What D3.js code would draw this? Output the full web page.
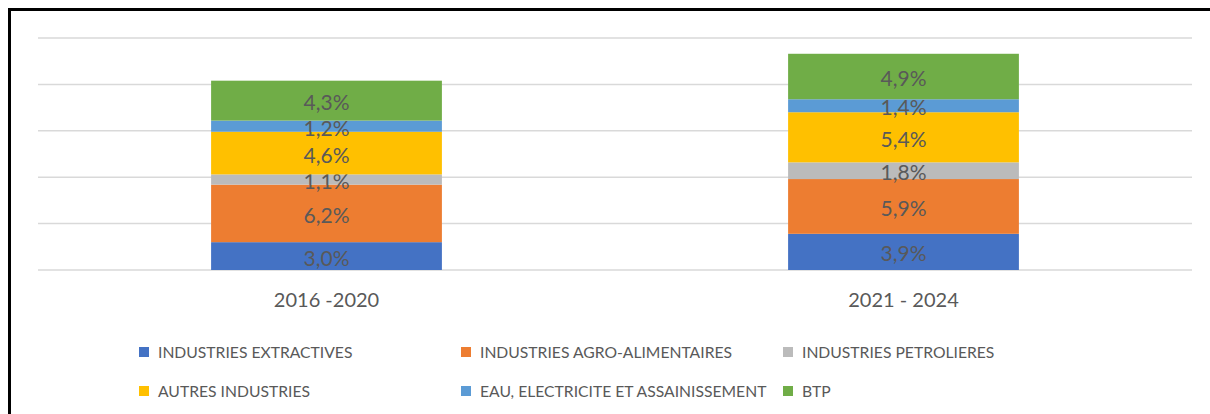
<!DOCTYPE html>
<html>
<head>
<meta charset="utf-8">
<script src="https://cdn.jsdelivr.net/npm/d3@7"></script>
<style>
  body { margin: 0; background: #fff; }
  svg { display: block; font-family: Lato, "Open Sans", sans-serif; }
</style>
</head>
<body>
<div id="chart"></div>
<script>
// data
const periods = ["2016 -2020", "2021 - 2024"];
const sectors = [
  "INDUSTRIES EXTRACTIVES",
  "INDUSTRIES AGRO-ALIMENTAIRES",
  "INDUSTRIES PETROLIERES",
  "AUTRES INDUSTRIES",
  "EAU, ELECTRICITE ET ASSAINISSEMENT",
  "BTP"
];
const extractives = [3.0, 3.9];
const agro = [6.2, 5.9];
const petrolieres = [1.1, 1.8];
const autres = [4.6, 5.4];
const eau = [1.2, 1.4];
const btp = [4.3, 4.9];
const yTicks = [0, 5, 10, 15, 20, 25];

const colors = ["#4472C4", "#ED7D31", "#BBBBBB", "#FFC000", "#5B9BD5", "#70AD47"];
const seriesValues = [extractives, agro, petrolieres, autres, eau, btp];

// build table for d3.stack
const table = periods.map(function (p, i) {
  let row = { period: p };
  sectors.forEach(function (s, j) {
    row[s] = seriesValues[j][i];
  });
  return row;
});

const W = 1210, H = 414;
const plotLeft = 38, plotRight = 1192, plotTop = 38, plotBottom = 270;

let svg = d3.select("#chart")
  .append("svg")
  .attr("width", W)
  .attr("height", H);

// frame
svg.append("rect")
  .attr("x", 9.5)
  .attr("y", 9.5)
  .attr("width", W + 20)
  .attr("height", H + 20)
  .attr("fill", "none")
  .attr("stroke", "#000")
  .attr("stroke-width", 3);

let x = d3.scaleBand()
  .domain(periods)
  .range([plotLeft, plotRight])
  .paddingInner(0.6)
  .paddingOuter(0.3);

let y = d3.scaleLinear()
  .domain([0, 25])
  .range([plotBottom, plotTop]);

// gridlines
svg.append("g")
  .selectAll("line")
  .data(yTicks)
  .enter()
  .append("line")
  .attr("x1", plotLeft)
  .attr("x2", plotRight)
  .attr("y1", function (d) { return y(d); })
  .attr("y2", function (d) { return y(d); })
  .attr("stroke", "#D9D9D9")
  .attr("stroke-width", 1.5);

let stack = d3.stack().keys(sectors);
let layers = stack(table);

let layer = svg.append("g")
  .selectAll("g")
  .data(layers)
  .enter()
  .append("g")
  .attr("fill", function (d, i) { return colors[i]; });

layer.selectAll("rect")
  .data(function (d) { return d; })
  .enter()
  .append("rect")
  .attr("x", function (d) { return x(d.data.period); })
  .attr("width", x.bandwidth())
  .attr("y", function (d) { return y(d[1]); })
  .attr("height", function (d) { return y(d[0]) - y(d[1]); });

// data labels
layer.selectAll("text")
  .data(function (d) { return d; })
  .enter()
  .append("text")
  .attr("x", function (d) { return x(d.data.period) + x.bandwidth() / 2; })
  .attr("y", function (d) { return (y(d[0]) + y(d[1])) / 2; })
  .attr("dy", "0.45em")
  .attr("text-anchor", "middle")
  .attr("fill", "#595959")
  .style("font-size", "21px")
  .text(function (d) { return (d[1] - d[0]).toFixed(1).replace(".", ",") + "%"; });

// category axis
let xAxis = svg.append("g")
  .attr("transform", "translate(0," + plotBottom + ")")
  .call(d3.axisBottom(x).tickSize(0).tickPadding(0));
xAxis.select(".domain").remove();
xAxis.selectAll("text")
  .attr("y", 37)
  .attr("dy", 0)
  .attr("fill", "#595959")
  .style("font-family", "Lato, sans-serif")
  .style("font-size", "20px");

// legend
const legendX = [139, 461, 783];
const legendY = [352, 391];
let legend = svg.append("g")
  .selectAll("g")
  .data(sectors)
  .enter()
  .append("g")
  .attr("transform", function (d, i) {
    return "translate(" + legendX[i % 3] + "," + legendY[Math.floor(i / 3)] + ")";
  });

legend.append("rect")
  .attr("x", 0)
  .attr("y", -5)
  .attr("width", 10)
  .attr("height", 10)
  .attr("fill", function (d, i) { return colors[i]; });

legend.append("text")
  .attr("x", 19)
  .attr("y", 0)
  .attr("dy", "0.36em")
  .attr("fill", "#595959")
  .style("font-size", "15.7px")
  .text(function (d) { return d; });
</script>
</body>
</html>
